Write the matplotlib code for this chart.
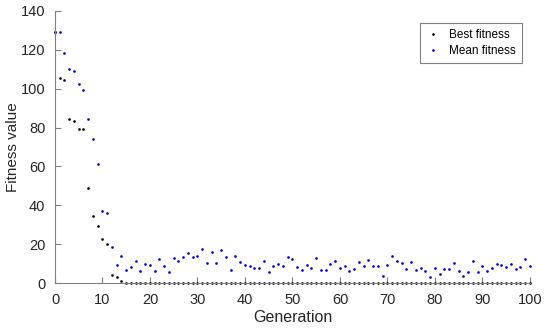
import matplotlib.pyplot as plt
import numpy as np

plt.rcParams['font.family'] = ['Liberation Sans', 'DejaVu Sans']

generation = np.arange(0, 101)

best_head = [129, 105.3, 104.3, 84.4, 83.5, 79.3, 79.3, 48.8, 34.7, 29.2,
             22.4, 20.1, 4.0, 3.3, 1.2]
best_fitness = best_head + [0] * (101 - len(best_head))

mean_fitness = [129.4, 129.2, 118.6, 110.0, 109.3, 102.4, 99.3, 84.4, 73.9, 61.3,
                37.1, 35.9, 18.4, 9.5, 13.9, 6.5, 8.1, 11.5, 6.0, 9.8,
                9.5, 6.0, 12.3, 9.0, 5.6, 12.9, 11.5, 13.6, 15.5, 13.6,
                13.9, 17.4, 10.2, 16.0, 10.3, 17.0, 13.2, 6.5, 13.9, 10.8,
                9.1, 8.6, 7.6, 7.9, 11.2, 5.5, 8.8, 9.8, 9.0, 13.6,
                12.4, 8.2, 6.7, 9.3, 7.7, 13.1, 6.5, 6.7, 10.0, 11.3,
                7.9, 8.6, 6.0, 7.4, 11.0, 9.0, 11.7, 8.5, 8.5, 3.6,
                9.3, 14.1, 11.5, 10.2, 7.4, 11.0, 6.9, 7.7, 6.0, 2.9,
                7.5, 4.5, 7.3, 7.4, 10.2, 6.2, 3.8, 5.5, 11.5, 5.5,
                8.8, 6.4, 7.6, 9.8, 9.3, 8.2, 9.8, 7.3, 8.0, 12.1,
                8.5]

fig = plt.figure(figsize=(5.5, 3.31), dpi=100)
ax = fig.add_axes([0.1, 0.145, 0.8636, 0.822])

ax.plot(generation, best_fitness, 'o', color='black', markersize=1.9, markeredgewidth=0,
        clip_on=False, label='Best fitness')
ax.plot(generation, mean_fitness, 'o', color='#0000c8', markersize=1.9, markeredgewidth=0,
        clip_on=False, label='Mean fitness')

ax.set_xlim(0, 100)
ax.set_ylim(0, 140)
ax.set_xticks(range(0, 101, 10))
ax.set_yticks(range(0, 141, 20))
ax.set_xlabel('Generation', fontsize=11.5, color='#262626', labelpad=2)
ax.set_ylabel('Fitness value', fontsize=11, color='#262626')
ax.yaxis.set_label_coords(-0.074, 0.5)

for s in ['top', 'right']:
    ax.spines[s].set_visible(False)
for s in ['left', 'bottom']:
    ax.spines[s].set_color('#808080')
    ax.spines[s].set_linewidth(0.8)
ax.tick_params(direction='in', length=4, width=0.8, color='#808080', labelsize=10.5,
               labelcolor='#262626', pad=7)

leg = ax.legend(loc='upper right', bbox_to_anchor=(0.983, 0.955), fontsize=8.5,
                fancybox=False, edgecolor='#808080', framealpha=1,
                handlelength=1.2, handletextpad=0.8, borderpad=0.5,
                labelspacing=0.35, borderaxespad=0)
leg.get_frame().set_linewidth(0.8)

fig.savefig('out.png', dpi=100)
